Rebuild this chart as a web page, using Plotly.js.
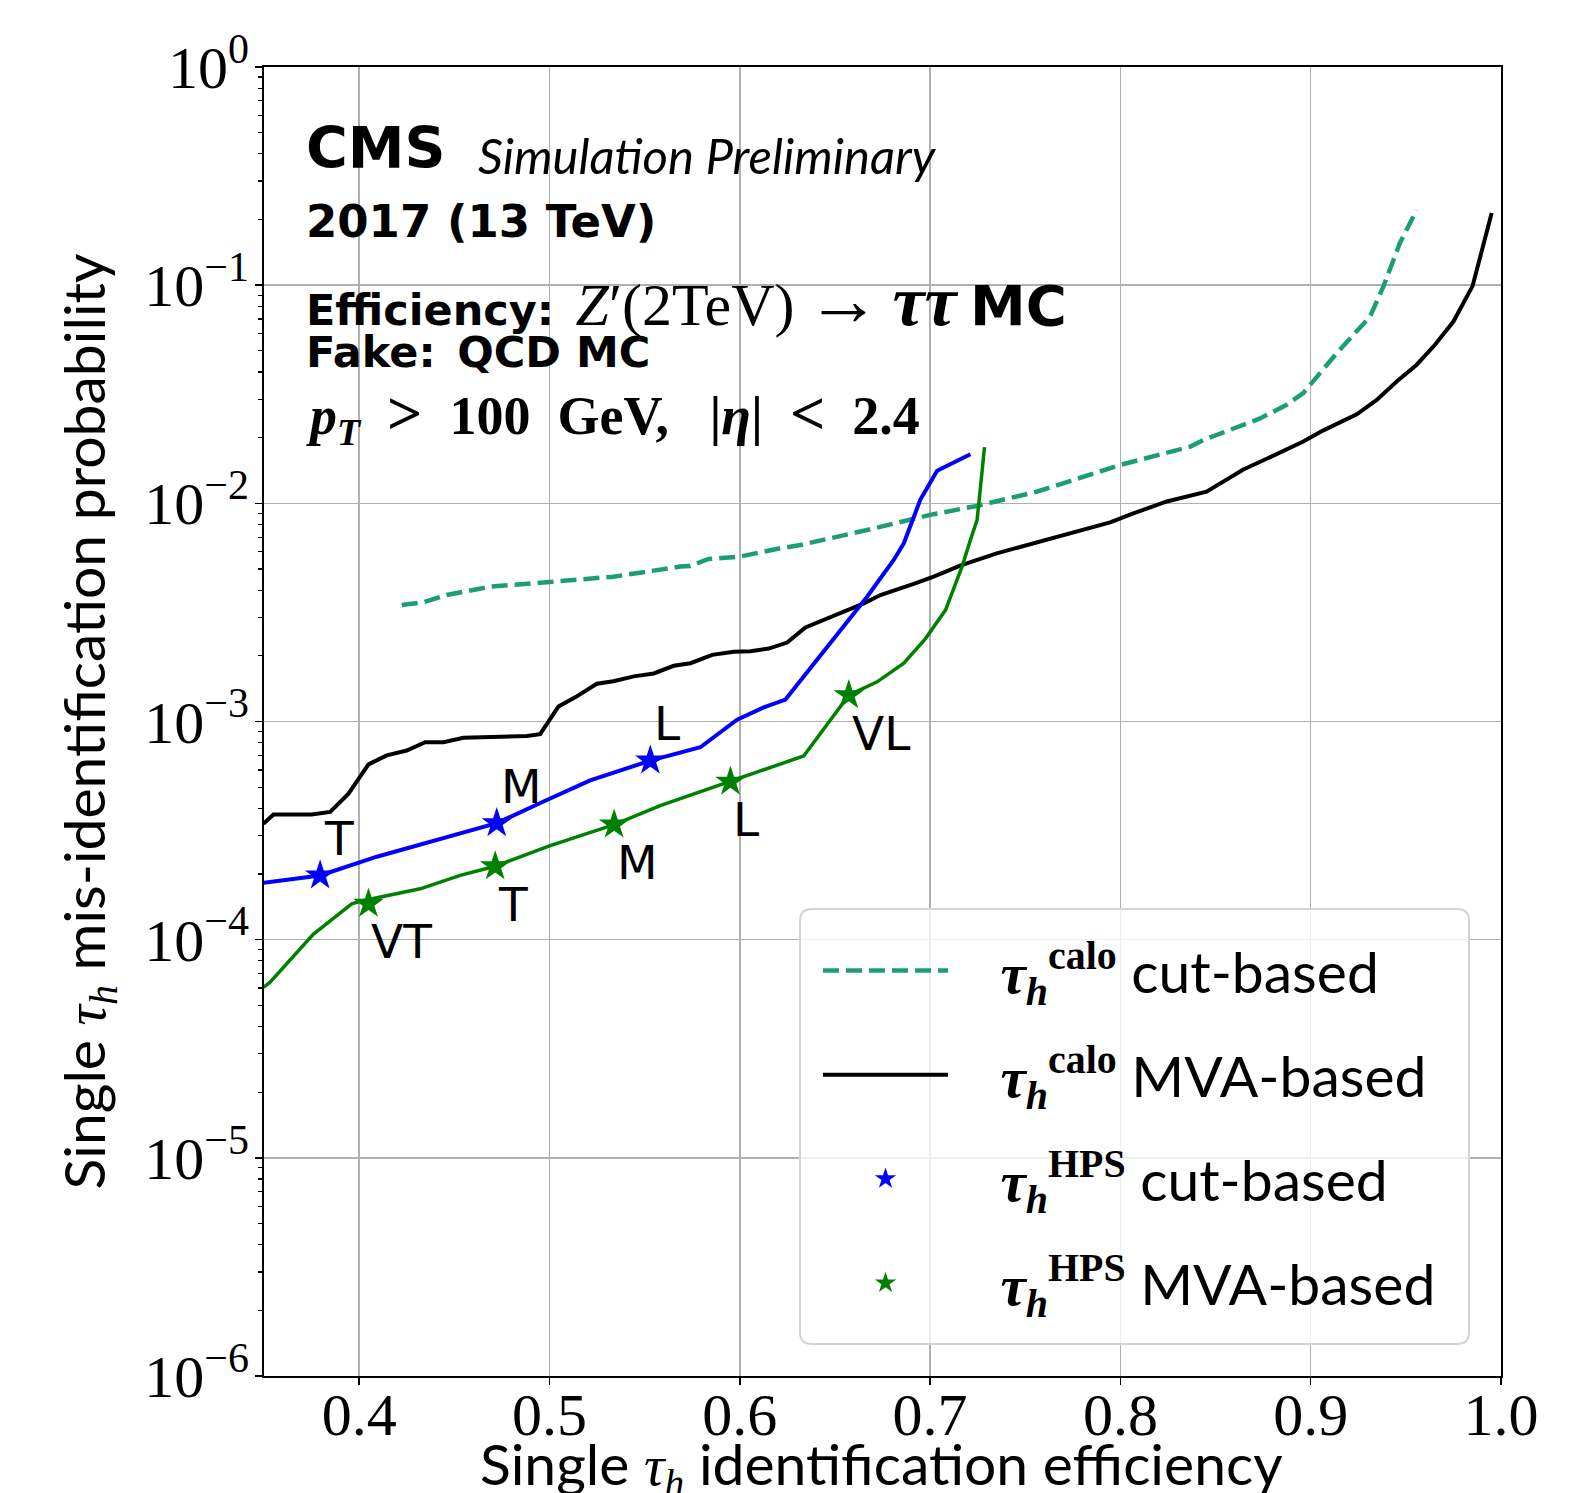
<!DOCTYPE html>
<html><head><meta charset="utf-8">
<script src="https://cdn.plot.ly/plotly-3.0.1.min.js"></script>
<style>html,body{margin:0;padding:0;background:#fff}</style>
</head><body>
<div id="chart" style="width:1588px;height:1493px"></div>
<script>
// ---- data ----
const caloCutX = [0.4224, 0.4338, 0.446, 0.4688, 0.5, 0.5336, 0.5687, 0.574, 0.5836, 0.6, 0.6212, 0.6319, 0.6669, 0.7, 0.7245, 0.756, 0.8, 0.8368, 0.8436, 0.8594, 0.8734, 0.8874, 0.8961, 0.9137, 0.9312, 0.9382, 0.9469, 0.9557];
const caloCutY = [3.42e-3, 3.52e-3, 3.80e-3, 4.15e-3, 4.36e-3, 4.61e-3, 5.13e-3, 5.16e-3, 5.56e-3, 5.70e-3, 6.22e-3, 6.44e-3, 7.55e-3, 8.85e-3, 9.73e-3, 1.13e-2, 1.50e-2, 1.82e-2, 1.95e-2, 2.21e-2, 2.45e-2, 2.83e-2, 3.20e-2, 4.88e-2, 7.18e-2, 9.86e-2, 1.56e-1, 2.21e-1];

const caloMvaX = [0.3497, 0.355, 0.375, 0.3848, 0.3944, 0.4049, 0.4145, 0.425, 0.4347, 0.4443, 0.4548, 0.4767, 0.4881, 0.4951, 0.5047, 0.5135, 0.5249, 0.5336, 0.5443, 0.5548, 0.5653, 0.5741, 0.5855, 0.5968, 0.6056, 0.6152, 0.6249, 0.6345, 0.6459, 0.6555, 0.6652, 0.6739, 0.6853, 0.6914, 0.7019, 0.7158, 0.735, 0.756, 0.7753, 0.7946, 0.8068, 0.8244, 0.8453, 0.8541, 0.8646, 0.8769, 0.8874, 0.8961, 0.9067, 0.9154, 0.9242, 0.9347, 0.9452, 0.9557, 0.9653, 0.975, 0.9851, 0.9951];
const caloMvaY = [3.40e-4, 3.75e-4, 3.75e-4, 3.85e-4, 4.67e-4, 6.36e-4, 6.99e-4, 7.36e-4, 8.04e-4, 8.04e-4, 8.42e-4, 8.48e-4, 8.59e-4, 8.75e-4, 1.17e-3, 1.29e-3, 1.49e-3, 1.53e-3, 1.61e-3, 1.66e-3, 1.80e-3, 1.85e-3, 2.02e-3, 2.09e-3, 2.10e-3, 2.16e-3, 2.30e-3, 2.70e-3, 2.97e-3, 3.19e-3, 3.48e-3, 3.80e-3, 4.08e-3, 4.27e-3, 4.61e-3, 5.18e-3, 5.90e-3, 6.62e-3, 7.29e-3, 8.18e-3, 8.99e-3, 1.02e-2, 1.13e-2, 1.26e-2, 1.43e-2, 1.60e-2, 1.76e-2, 1.92e-2, 2.16e-2, 2.35e-2, 2.56e-2, 2.98e-2, 3.62e-2, 4.32e-2, 5.33e-2, 6.81e-2, 9.93e-2, 0.214];

const hpsCutX = [0.3497, 0.3795, 0.4093, 0.4303, 0.4531, 0.4723, 0.4969, 0.5214, 0.553, 0.5793, 0.5986, 0.6126, 0.624, 0.6669, 0.6809, 0.6862, 0.6949, 0.7037, 0.7212];
const hpsCutY = [1.82e-4, 1.97e-4, 2.40e-4, 2.70e-4, 3.07e-4, 3.42e-4, 4.30e-4, 5.37e-4, 6.62e-4, 7.62e-4, 1.02e-3, 1.16e-3, 1.26e-3, 3.73e-3, 5.50e-3, 6.56e-3, 1.04e-2, 1.41e-2, 1.68e-2];

const hpsMvaX = [0.3497, 0.3532, 0.376, 0.3961, 0.4005, 0.4321, 0.4531, 0.4715, 0.5004, 0.534, 0.5582, 0.5951, 0.6336, 0.6573, 0.6722, 0.6862, 0.6976, 0.7081, 0.7168, 0.7212, 0.7247, 0.7265, 0.7286];
const hpsMvaY = [6.05e-5, 6.38e-5, 1.06e-4, 1.46e-4, 1.50e-4, 1.71e-4, 1.97e-4, 2.17e-4, 2.70e-4, 3.37e-4, 4.12e-4, 5.30e-4, 6.95e-4, 1.32e-3, 1.52e-3, 1.85e-3, 2.40e-3, 3.24e-3, 5.13e-3, 6.79e-3, 8.39e-3, 1.19e-2, 1.81e-2];

const hpsCutWpX = [0.3795, 0.4723, 0.553];
const hpsCutWpY = [1.97e-4, 3.42e-4, 6.62e-4];
const hpsCutWpLabels = ["T", "M", "L"];

const hpsMvaWpX = [0.4049, 0.4715, 0.534, 0.5951, 0.6573];
const hpsMvaWpY = [1.46e-4, 2.17e-4, 3.37e-4, 5.30e-4, 1.32e-3];
const hpsMvaWpLabels = ["VT", "T", "M", "L", "VL"];

const xTickVals = [0.4, 0.5, 0.6, 0.7, 0.8, 0.9, 1.0];
const xTickLabels = ["0.4", "0.5", "0.6", "0.7", "0.8", "0.9", "1.0"];
const yTickVals = [1e-6, 1e-5, 1e-4, 1e-3, 1e-2, 1e-1, 1];
const yTickLabels = ["10<sup>−6</sup>", "10<sup>−5</sup>", "10<sup>−4</sup>", "10<sup>−3</sup>", "10<sup>−2</sup>", "10<sup>−1</sup>", "10<sup>0</sup>"];

const TAU = (sup) => '<span style="font-family:Liberation Serif"><b><i>τ</i></b><sub><b><i>h</i></b></sub><sup><b>' + sup + '</b></sup></span>';
const GAP = '\u2002\u2004';
const legendNames = [
  GAP + TAU('calo') + ' cut-based',
  GAP + TAU('calo') + ' MVA-based',
  GAP + TAU('HPS') + ' cut-based',
  GAP + TAU('HPS') + ' MVA-based'
];
const xTitle = 'Single <span style="font-family:Liberation Serif"><i>τ<sub>h</sub></i></span> identification efficiency';
const yTitle = 'Single <span style="font-family:Liberation Serif"><i>τ<sub>h</sub></i></span> mis-identification probability';

// ---- styling ----
const SERIF = 'Liberation Serif';
const SANS = 'Lato';
const C_CUT = '#1b9e77';

// minor ticks on log axis (2..9 x decade)
const minorVals = [];
for (let k = -6; k < 0; k++) for (let m = 2; m <= 9; m++) minorVals.push(m * Math.pow(10, k));

const traces = [
  {x: caloCutX, y: caloCutY, type: 'scatter', mode: 'lines', name: legendNames[0],
   line: {color: C_CUT, width: 4.5, dash: '16px,7px'}, legendgroup: 'a', hoverinfo: 'skip'},
  {x: caloMvaX, y: caloMvaY, type: 'scatter', mode: 'lines', name: legendNames[1],
   line: {color: 'black', width: 4}, legendgroup: 'b', hoverinfo: 'skip'},
  {x: hpsCutX, y: hpsCutY, type: 'scatter', mode: 'lines', showlegend: false,
   line: {color: '#0000ff', width: 4}, hoverinfo: 'skip'},
  {x: hpsMvaX, y: hpsMvaY, type: 'scatter', mode: 'lines', showlegend: false,
   line: {color: '#008000', width: 3.5}, hoverinfo: 'skip'},
  {x: hpsCutWpX, y: hpsCutWpY, type: 'scatter', mode: 'markers', name: legendNames[2],
   marker: {symbol: 'star', size: 23, color: '#0000ff', line: {width: 0}}, legendgroup: 'c'},
  {x: hpsMvaWpX, y: hpsMvaWpY, type: 'scatter', mode: 'markers', name: legendNames[3],
   marker: {symbol: 'star', size: 23, color: '#008000', line: {width: 0}}, legendgroup: 'd'}
];

const annotations = [];
hpsCutWpLabels.forEach((t, i) => annotations.push({
  x: hpsCutWpX[i], y: Math.log10(hpsCutWpY[i]), xref: 'x', yref: 'y', text: t, showarrow: false,
  xanchor: 'left', yanchor: 'middle', xshift: 2, yshift: 37,
  font: {family: 'DejaVu Sans', size: 47, color: 'black'}
}));
hpsMvaWpLabels.forEach((t, i) => annotations.push({
  x: hpsMvaWpX[i], y: Math.log10(hpsMvaWpY[i]), xref: 'x', yref: 'y', text: t, showarrow: false,
  xanchor: 'left', yanchor: 'middle', xshift: 1, yshift: -38,
  font: {family: 'DejaVu Sans', size: 47, color: 'black'}
}));

function px(X) { return (X - 264) / 1237; }
function py(Y) { return (1376 - Y) / 1309; }
const topText = [
  {X: 304, Y: 148, text: '<b>CMS</b>', font: {family: 'DejaVu Sans', size: 57}},
  {X: 476, Y: 155, text: '<i>Simulation Preliminary</i>', font: {family: SANS, size: 49}},
  {X: 304, Y: 221, text: '<b>2017 (13 TeV)</b>', font: {family: 'DejaVu Sans', size: 45}},
  {X: 304, Y: 300, text: '<b>Efficiency:</b>\u2002<span style="font-family:Liberation Serif;font-size:60px"><i>Z</i>′(2TeV)\u2009<span style="font-size:74px">→</span>\u2009<b><i><span style="font-size:72px">ττ</span></i></b></span> <b><span style="font-size:56px">MC</span></b>', font: {family: 'DejaVu Sans', size: 43}},
  {X: 304, Y: 352, text: '<b>Fake:\u2002QCD MC</b>', font: {family: 'DejaVu Sans', size: 43}},
  {X: 304, Y: 416, text: '<b><i>p</i><sub><i>T</i></sub>\u2002<span style="font-size:62px">></span>\u2002100\u2002GeV,\u2002 |<i>η</i>|\u2002<span style="font-size:62px"><</span>\u20022.4</b>', font: {family: SERIF, size: 54}}
];
topText.forEach(t => annotations.push({
  x: px(t.X), y: py(t.Y), xref: 'paper', yref: 'paper', text: t.text, showarrow: false,
  xanchor: 'left', yanchor: 'middle', font: Object.assign({color: 'black'}, t.font)
}));
// x-axis title (placed like the reference: partly below the bottom edge)
annotations.push({
  x: px(881), y: py(1467), xref: 'paper', yref: 'paper', text: xTitle, showarrow: false,
  xanchor: 'center', yanchor: 'middle', font: {family: SANS, size: 57, color: 'black'}
});

// legend frame (rounded box, semi-transparent white)
function roundedBox(L, T, R, B, r) {
  const x0 = px(L), x1 = px(R), y0 = py(B), y1 = py(T);
  const rx = r / 1237, ry = r / 1309;
  return `M${x0 + rx},${y1} L${x1 - rx},${y1} Q${x1},${y1} ${x1},${y1 - ry} L${x1},${y0 + ry} Q${x1},${y0} ${x1 - rx},${y0} L${x0 + rx},${y0} Q${x0},${y0} ${x0},${y0 + ry} L${x0},${y1 - ry} Q${x0},${y1} ${x0 + rx},${y1} Z`;
}
const shapes = [{
  type: 'path', xref: 'paper', yref: 'paper', path: roundedBox(800, 909, 1469, 1344, 12),
  fillcolor: 'rgba(255,255,255,0.8)', line: {color: '#d4d4d4', width: 2}, layer: 'above'
}];

const layout = {
  width: 1588, height: 1493,
  margin: {l: 264, r: 87, t: 67, b: 117},
  paper_bgcolor: 'white', plot_bgcolor: 'white',
  showlegend: true,
  xaxis: {
    range: [0.35, 1.0], tickmode: 'array', tickvals: xTickVals, ticktext: xTickLabels,
    ticks: 'outside', ticklen: 7, tickwidth: 1.6, tickcolor: 'black', ticklabelstandoff: -22,
    showline: true, linecolor: 'black', linewidth: 2, mirror: true,
    showgrid: true, gridcolor: '#b0b0b0', gridwidth: 1.6, zeroline: false,
    tickfont: {family: SERIF, size: 60, color: 'black'}
  },
  yaxis: {
    type: 'log', range: [-6, 0], tickmode: 'array', tickvals: yTickVals, ticktext: yTickLabels,
    ticks: 'outside', ticklen: 7, tickwidth: 1.6, tickcolor: 'black', ticklabelstandoff: -6,
    showline: true, linecolor: 'black', linewidth: 2, mirror: true,
    showgrid: true, gridcolor: '#b0b0b0', gridwidth: 1.6, zeroline: false,
    tickfont: {family: SERIF, size: 60, color: 'black'},
    minor: {tickmode: 'array', tickvals: minorVals, ticks: 'outside', ticklen: 4, tickwidth: 1.2, tickcolor: 'black', showgrid: false},
    title: {text: yTitle, font: {family: SANS, size: 57, color: 'black'}, standoff: 20}
  },
  legend: {
    x: px(818), y: py(927), xanchor: 'left', yanchor: 'top',
    bgcolor: 'rgba(0,0,0,0)', borderwidth: 0,
    font: {family: SANS, size: 57, color: 'black'},
    traceorder: 'grouped', tracegroupgap: 27, itemwidth: 125
  },
  shapes: shapes,
  annotations: annotations
};

Plotly.newPlot('chart', traces, layout, {displayModeBar: false, staticPlot: true});
</script>
</body></html>
